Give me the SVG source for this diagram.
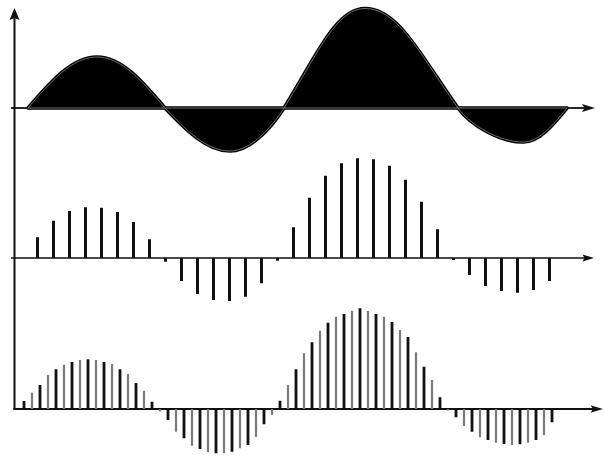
<svg xmlns="http://www.w3.org/2000/svg" width="604" height="456" viewBox="0 0 604 456">
<style>
.axis{stroke:#111;fill:none;stroke-linecap:butt}
.arrow{fill:#111;stroke:none}
.wave{fill:#000;stroke:#000;stroke-width:3.6;stroke-linejoin:round}
.waveline{fill:none;stroke:#8a8a8a;stroke-width:0.8}
.bar{stroke:#111;stroke-width:3;fill:none}
.barb{stroke:#111;stroke-width:2.8;fill:none}
.barg{stroke:#7a7a7a;stroke-width:2.2;fill:none}
</style>
<rect width="604" height="456" fill="#fff"/>
<g id="axes">
<line class="axis" x1="14.5" y1="15" x2="14.5" y2="410" stroke-width="2"/>
<path class="arrow" d="M14.5,8 L19.5,20 L14.5,18 L9.5,20 Z"/>
</g>
<g id="plot-continuous">
<path class="wave" d="M28,108 C50.5,81.9 72,57 97,57 C121.6,57 142.8,81.9 165,108 C185.9,130 206.8,151 230,151 C249.5,151 269.9,130 284,108 C316,57 335.7,8.5 365,8.5 C398.7,8.5 421.4,57 458,108 C470.8,125.4 499.5,142 523,142 C538.9,142 552.7,125.4 567,108 Z"/>
<path class="waveline" d="M28,108 C50.5,81.9 72,57 97,57 C121.6,57 142.8,81.9 165,108 C185.9,130 206.8,151 230,151 C249.5,151 269.9,130 284,108 C316,57 335.7,8.5 365,8.5 C398.7,8.5 421.4,57 458,108 C470.8,125.4 499.5,142 523,142 C538.9,142 552.7,125.4 567,108 Z"/>
<line class="axis" x1="11" y1="108" x2="28" y2="108" stroke-width="1.8"/>
<line class="axis" x1="567" y1="108" x2="585" y2="108" stroke-width="1.8"/>
<path class="arrow" d="M595,108 L582,112 L584.5,108 L582,104 Z"/>
</g>
<g id="plot-sampled">
<line class="axis" x1="11" y1="258" x2="586" y2="258" stroke-width="1.6"/>
<path class="arrow" d="M594,258 L582.5,261.5 L584.5,258 L582.5,254.5 Z"/>
<path class="bar" d="M37.5,258V237.3M53.5,258V220.7M69.5,258V211M85.5,258V207.3M101.5,258V207.7M117.5,258V212M133.5,258V222M149.5,258V239.3M165.5,258V261.7M181.5,258V281M197.5,258V294M213.5,258V300M229.5,258V301M245.5,258V296.7M261.5,258V283.3M277.5,258V260.7M293.5,258V227.3M309.5,258V197.7M325.5,258V175.7M341.5,258V163.3M357.5,258V158.3M373.5,258V159.3M389.5,258V165.7M405.5,258V179.7M421.5,258V201.7M437.5,258V229.3M453.5,258V260M469.5,258V275M485.5,258V286M501.5,258V291M517.5,258V292.7M533.5,258V290M549.5,258V281"/>
</g>
<g id="plot-oversampled">
<line class="axis" x1="13.5" y1="409" x2="593" y2="409" stroke-width="2"/>
<path class="arrow" d="M603,409 L590.5,412.8 L593,409 L590.5,405.2 Z"/>
<path class="barg" d="M32,409V392.7M48,409V375M64,409V364.7M80,409V360M96,409V360M112,409V364M128,409V374M144,409V390.7M160,409V411.5M176,409V431.7M192,409V445.7M208,409V452.3M224,409V453.3M240,409V448.3M256,409V436.7M272,409V415M288,409V385M304,409V353.3M320,409V330.7M336,409V316.7M352,409V310.7M368,409V311M384,409V316.7M400,409V330M416,409V352.3M432,409V380M448,409V410.5M464,409V426M480,409V437.3M496,409V442.7M512,409V445M528,409V442.7M544,409V435"/>
<path class="barb" d="M24,409V401M40,409V385M56,409V369.3M72,409V362M88,409V359.3M104,409V362M120,409V369.3M136,409V383M152,409V401.7M168,409V420M184,409V438.3M200,409V449M216,409V453.3M232,409V451.7M248,409V445M264,409V424.3M280,409V400.7M296,409V369.3M312,409V342.3M328,409V322.7M344,409V314M360,409V308.3M376,409V314M392,409V322M408,409V337M424,409V366.7M440,409V397.3M456,409V417.3M472,409V431.7M488,409V440M504,409V444M520,409V444.3M536,409V440M552,409V422.3"/>
</g>
</svg>
